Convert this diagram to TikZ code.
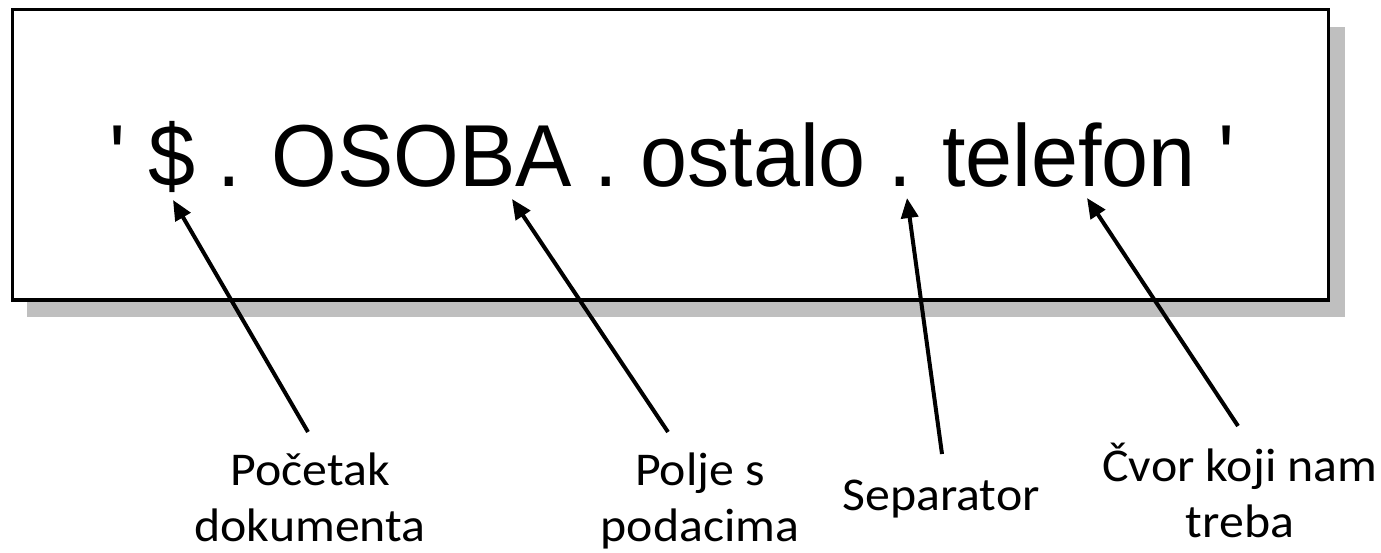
\documentclass[tikz,border=0pt]{standalone}
\usepackage{fontspec}
\newfontfamily\arialf[FakeStretch=0.96]{Liberation Sans}
\newfontfamily\labf[FakeStretch=1.06]{Carlito}
\usetikzlibrary{arrows.meta}
\begin{document}
\begin{tikzpicture}[x=1pt,y=-1pt,
  frame/.style={draw=black,line width=3pt,fill=white},
  shadowbox/.style={fill=black!25,draw=none},
  lbl/.style={font=\labf\fontsize{47}{56}\selectfont,align=center,inner sep=0pt},
  ptr/.style={line width=4pt,-{Triangle[length=20pt,width=17pt]}}]
\useasboundingbox (0,0) rectangle (1381,553);
\fill[shadowbox] (27,27) rectangle (1345,317);
\draw[frame] (12,10) rectangle (1328,300);
\node[anchor=base,inner sep=0pt,font=\arialf\fontsize{88}{100}\selectfont] (expr) at (672,187) {\spaceskip=22.5pt\relax ' \$ . OSOBA . ostalo . telefon '};
\coordinate (t1) at (173,200);
\coordinate (t2) at (512,199);
\coordinate (t3) at (907,198);
\coordinate (t4) at (1087,198);
\node[lbl,anchor=base] (l1) at (310,541) {Početak\\dokumenta};
\node[lbl,anchor=base] (l2) at (700,541) {Polje s\\podacima};
\node[lbl,anchor=base] (l3) at (941,510) {Separator};
\node[lbl,anchor=base] (l4) at (1240,537) {Čvor koji nam\\treba};
\coordinate (s1) at (308,432);
\coordinate (s2) at (668,432);
\coordinate (s3) at (942,454);
\coordinate (s4) at (1238,426);
\draw[ptr] (s1) -- (t1);
\draw[ptr] (s2) -- (t2);
\draw[ptr] (s3) -- (t3);
\draw[ptr] (s4) -- (t4);
\end{tikzpicture}
\end{document}
